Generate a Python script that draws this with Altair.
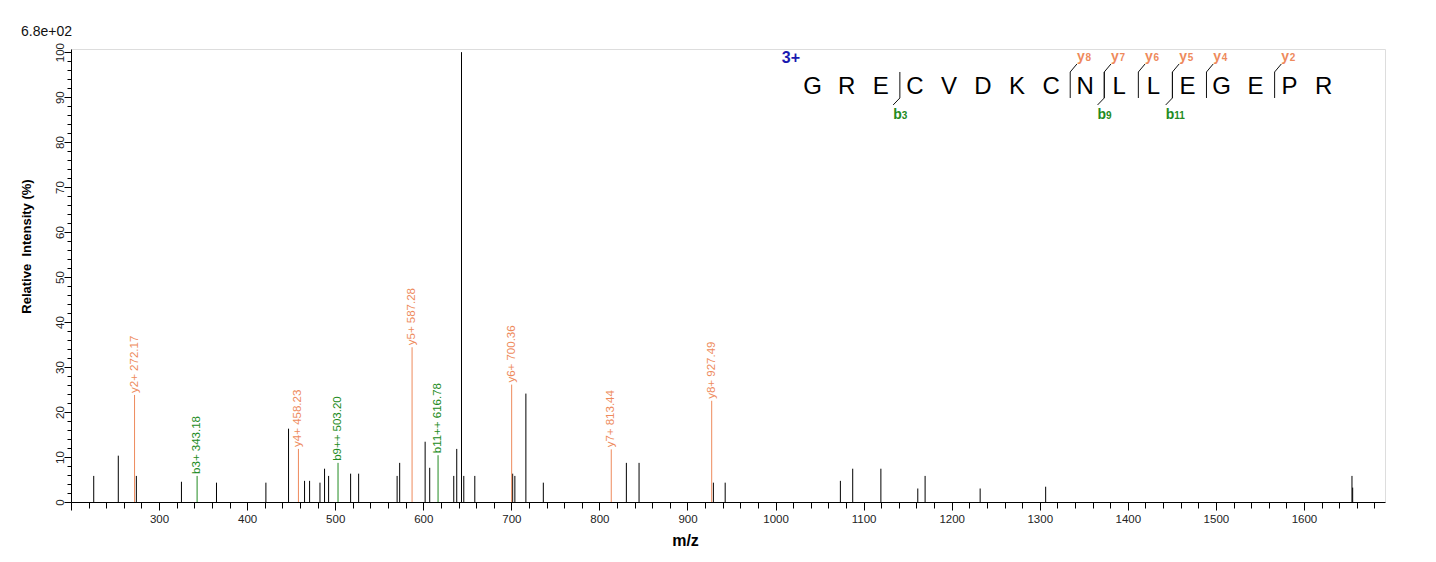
import altair as alt
import pandas as pd

# ---------------- data ----------------
peak_mz = [225.8, 253.7, 274.2, 325.4, 365.2, 421.3, 447.0, 465.2, 470.9, 482.7,
           487.9, 492.5, 517.5, 526.6, 570.3, 573.2, 602.1, 607.3, 634.6, 638.0,
           643.4, 646.0, 658.5, 701.5, 704.0, 716.5, 736.3, 830.6, 845.0, 929.4,
           942.8, 1073.6, 1087.6, 1119.6, 1161.5, 1169.8, 1232.3, 1306.7, 1654.5, 1655.3]
peak_int = [5.8, 10.3, 5.8, 4.5, 4.3, 4.3, 16.3, 4.7, 4.7, 4.3,
            7.4, 5.8, 6.3, 6.3, 5.8, 8.7, 13.4, 7.6, 5.8, 11.8,
            100.0, 5.8, 5.8, 6.3, 5.8, 24.1, 4.3, 8.7, 8.7, 4.3,
            4.3, 4.7, 7.4, 7.4, 3.0, 5.8, 3.0, 3.4, 5.8, 3.2]

ion_label = ["y2+", "b3+", "y4+", "b9++", "y5+", "b11++", "y6+", "y7+", "y8+"]
ion_mz = [272.17, 343.18, 458.23, 503.20, 587.28, 616.78, 700.36, 813.44, 927.49]
ion_int = [23.8, 5.8, 11.8, 8.7, 34.4, 10.4, 26.1, 11.7, 22.5]
ion_series = ["y", "b", "y", "b", "y", "b", "y", "y", "y"]

peptide = list("GRECVDKCNLLEGEPR")
b_frag = [3, 9, 11]
y_frag = [8, 7, 6, 5, 4, 2]
precursor_charge = "3+"
base_peak = "6.8e+02"

x_tick_values = list(range(200, 1700, 20))
y_tick_values = list(range(0, 101, 2))

# ---------------- layout / style ----------------
W, H = 1314, 453
X_DOMAIN = [200, 1692]
Y_DOMAIN = [0, 100.7]
SEQ_DOMAIN = [-21.77, 16.80]
ORANGE = "#EE8A5C"
GREEN = "#228B22"
BLUE = "#1A1AB0"
FONT = "Liberation Sans"

CUT_OFFSET = 0.44     # cleavage mark position relative to residue count
TAIL_DX = 0.197       # slant length in residue units
CUT_TOP, CUT_BOT = 95.59, 89.81
B_TAIL, Y_TAIL = 88.26, 97.37
B_TEXT, Y_TEXT = 85.08, 98.12
SEQ_BASE = 90.7
CHARGE_X, CHARGE_Y = -0.64, 97.52
BASE_LABEL_Y = 103.7

# ---------------- tables ----------------
peaks = pd.DataFrame({"mz": peak_mz, "intensity": peak_int})
ions = pd.DataFrame({"mz": ion_mz, "intensity": ion_int, "series": ion_series,
                     "ion": ion_label})
ions["text"] = [f"{l} {m:.2f}" for l, m in zip(ion_label, ion_mz)]

seq = pd.DataFrame({"idx": list(range(len(peptide))), "aa": peptide})

n = len(peptide)
frag_rows = []
for k in b_frag:
    p = k - CUT_OFFSET
    frag_rows.append({"pos": p, "tail": p - TAIL_DX, "yfrom": CUT_BOT, "yto": B_TAIL,
                      "ty": B_TEXT, "letter": "b", "num": str(k), "series": "b"})
for k in y_frag:
    p = (n - k) - CUT_OFFSET
    frag_rows.append({"pos": p, "tail": p + TAIL_DX, "yfrom": CUT_TOP, "yto": Y_TAIL,
                      "ty": Y_TEXT, "letter": "y", "num": str(k), "series": "y"})
frags = pd.DataFrame(frag_rows)

series_color = alt.Color("series:N", scale=alt.Scale(domain=["b", "y"], range=[GREEN, ORANGE]),
                         legend=None)

x_axis = alt.Axis(
    values=x_tick_values, tickCount=500, format="d",
    labelExpr="datum.value % 100 === 0 && datum.value > 200 ? datum.label : ''",
    tickSize={"condition": {"test": "datum.value % 100 === 0", "value": 8}, "value": 6},
    labelFontSize=11.5, labelFont=FONT, labelColor="#222", labelPadding=3,
    labelFlush=False, labelOverlap=False, grid=False,
    tickColor="black", domainColor="black",
    title="m/z", titleFont=FONT, titleFontSize=16, titleFontWeight="bold", titleColor="black",
    titleX=614, titleY=43, titleAlign="center", titleBaseline="alphabetic",
)
y_axis = alt.Axis(
    values=y_tick_values, tickCount=500, format="d",
    labelExpr="datum.value % 10 === 0 ? datum.label : ''",
    tickSize={"condition": {"test": "datum.value % 10 === 0", "value": 7}, "value": 4},
    labelAngle=270, labelAlign="center", labelBaseline="alphabetic", labelPadding=1,
    labelFontSize=11.5, labelFont=FONT, labelColor="#222",
    labelFlush=False, labelOverlap=False, grid=False,
    tickColor="black", domainColor="black",
    title="Relative\u00a0\u00a0Intensity (%)", titleFont=FONT, titleFontSize=13,
    titleFontWeight="bold", titleColor="black", titleAngle=270,
    titleX=-45, titleY=197, titleAlign="center", titleBaseline="middle",
)

xs = alt.Scale(domain=X_DOMAIN, nice=False, zero=False)
ys = alt.Scale(domain=Y_DOMAIN, nice=False, zero=True)
ss = alt.Scale(domain=SEQ_DOMAIN, nice=False, zero=False)

peak_layer = alt.Chart(peaks).mark_rule(color="black", strokeWidth=1).encode(
    x=alt.X("mz:Q", scale=xs, axis=x_axis),
    y=alt.Y("intensity:Q", scale=ys, axis=y_axis),
    y2=alt.datum(0),
)
ion_layer = alt.Chart(ions).mark_rule(strokeWidth=1).encode(
    x=alt.X("mz:Q", scale=xs),
    y=alt.Y("intensity:Q", scale=ys),
    y2=alt.datum(0),
    color=series_color,
)
ion_text = alt.Chart(ions).mark_text(angle=270, align="left", baseline="middle", dx=2,
                                     fontSize=11.5, font=FONT).encode(
    x=alt.X("mz:Q", scale=xs),
    y=alt.Y("intensity:Q", scale=ys),
    text="text:N",
    color=series_color,
)
base_text = alt.Chart(pd.DataFrame({"t": [base_peak]})).mark_text(
    align="right", baseline="alphabetic", fontSize=14, font=FONT, color="#111", dx=1
).encode(
    x=alt.X(datum=X_DOMAIN[0], scale=xs),
    y=alt.Y(datum=BASE_LABEL_Y, scale=ys),
    text="t:N",
)
mz_layers = alt.layer(peak_layer, ion_layer, ion_text, base_text)

letters = alt.Chart(seq).mark_text(fontSize=24, font=FONT, baseline="alphabetic",
                                   align="center", color="black").encode(
    x=alt.X("idx:Q", scale=ss, axis=None),
    y=alt.Y(datum=SEQ_BASE, scale=ys),
    text="aa:N",
)
cuts = alt.Chart(frags).mark_rule(color="#111", strokeWidth=1).encode(
    x=alt.X("pos:Q", scale=ss, axis=None),
    y=alt.Y(datum=CUT_TOP, scale=ys),
    y2=alt.datum(CUT_BOT),
)
tails = alt.Chart(frags).mark_rule(color="#111", strokeWidth=1).encode(
    x=alt.X("pos:Q", scale=ss, axis=None),
    x2="tail:Q",
    y=alt.Y("yfrom:Q", scale=ys),
    y2="yto:Q",
)
frag_letter = alt.Chart(frags).mark_text(fontSize=14, fontWeight="bold", font=FONT,
                                         align="left", baseline="alphabetic").encode(
    x=alt.X("tail:Q", scale=ss, axis=None),
    y=alt.Y("ty:Q", scale=ys),
    text="letter:N",
    color=series_color,
)
frag_num = alt.Chart(frags).mark_text(fontSize=10, fontWeight="bold", font=FONT,
                                      align="left", baseline="alphabetic", dx=8.5).encode(
    x=alt.X("tail:Q", scale=ss, axis=None),
    y=alt.Y("ty:Q", scale=ys),
    text="num:N",
    color=series_color,
)
charge = alt.Chart(seq).mark_text(fontSize=16, fontWeight="bold", font=FONT, color=BLUE,
                                  align="center", baseline="alphabetic").encode(
    x=alt.X(datum=CHARGE_X, scale=ss, axis=None),
    y=alt.Y(datum=CHARGE_Y, scale=ys),
    text=alt.value(precursor_charge),
).transform_filter("datum.idx === 0")

seq_layers = alt.layer(letters, cuts, tails, frag_letter, frag_num, charge)

chart = alt.layer(mz_layers, seq_layers).resolve_scale(x="independent").properties(
    width=W, height=H,
    autosize=alt.AutoSizeParams(type="none"),
    padding={"left": 63, "top": 41, "right": 40, "bottom": 50},
).configure_view(stroke=None).configure(background="white")

chart.save("out.html", embed_options={"renderer": "svg", "actions": False})
